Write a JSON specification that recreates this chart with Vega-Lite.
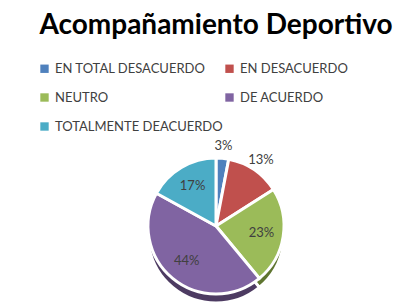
{
  "$schema": "https://vega.github.io/schema/vega-lite/v6.json",
  "width": 398,
  "height": 304,
  "autosize": {"type": "fit", "contains": "padding"},
  "padding": {"left": 38, "right": 4, "top": 12, "bottom": 0},
  "background": "white",
  "title": {"text": "Acompañamiento Deportivo", "font": "Lato", "fontSize": 28, "fontWeight": "bold", "color": "#000000", "anchor": "middle", "offset": 22},
  "data": {"values": [
    {"categoria": "EN TOTAL DESACUERDO", "valor": 0.03, "orden": 1},
    {"categoria": "EN DESACUERDO", "valor": 0.13, "orden": 2},
    {"categoria": "NEUTRO", "valor": 0.23, "orden": 3},
    {"categoria": "DE ACUERDO", "valor": 0.44, "orden": 4},
    {"categoria": "TOTALMENTE DEACUERDO", "valor": 0.17, "orden": 5}
  ]},
  "encoding": {
    "theta": {"field": "valor", "type": "quantitative", "stack": true},
    "order": {"field": "orden", "type": "quantitative"}
  },
  "layer": [
    {
      "mark": {"type": "arc", "outerRadius": 68, "yOffset": 9, "stroke": "white", "strokeWidth": 3},
      "encoding": {
        "color": {"field": "categoria", "type": "nominal",
          "scale": {"domain": ["EN TOTAL DESACUERDO", "EN DESACUERDO", "NEUTRO", "DE ACUERDO", "TOTALMENTE DEACUERDO"],
                    "range": ["#2C4D75", "#772C2A", "#5F7530", "#4D3B62", "#276A7C"]},
          "legend": null}
      }
    },
    {
      "mark": {"type": "arc", "outerRadius": 68, "stroke": "white", "strokeWidth": 3},
      "encoding": {
        "color": {"field": "categoria", "type": "nominal",
          "scale": {"domain": ["EN TOTAL DESACUERDO", "EN DESACUERDO", "NEUTRO", "DE ACUERDO", "TOTALMENTE DEACUERDO"],
                    "range": ["#4F81BD", "#C0504D", "#9BBB59", "#8064A2", "#4BACC6"]},
          "legend": {"title": null, "orient": "top", "direction": "horizontal", "columns": 2,
                     "symbolType": "square", "symbolSize": 70, "symbolStrokeWidth": 0,
                     "labelFont": "Lato", "labelFontSize": 13, "labelColor": "#404040",
                     "rowPadding": 15, "columnPadding": 0, "offset": 14, "labelLimit": 250}}
      }
    },
    {
      "mark": {"type": "text", "radius": {"expr": "datum.valor < 0.15 ? 80 : 46"}, "font": "Lato", "fontSize": 13, "color": "#404040"},
      "encoding": {"text": {"field": "valor", "type": "quantitative", "format": ".0%"}}
    }
  ],
  "resolve": {"scale": {"color": "independent"}}
}
